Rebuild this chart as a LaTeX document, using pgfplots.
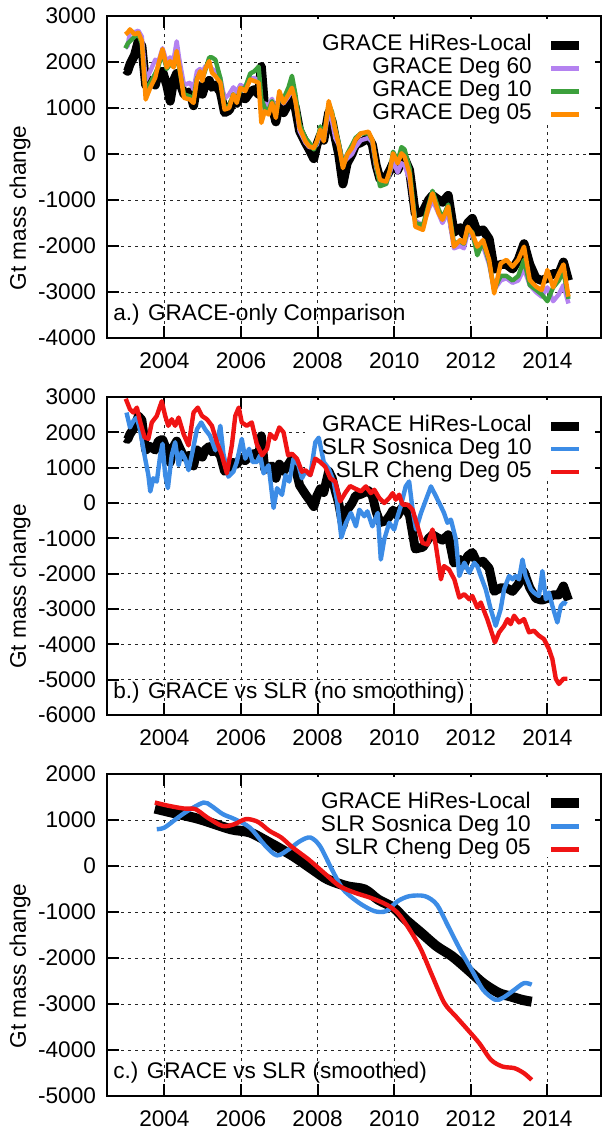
\documentclass[border=0pt]{standalone}
\usepackage{fontspec}
\setmainfont{Liberation Sans}
\usepackage{pgfplots}
\usepackage{pgfplotstable}
\pgfplotsset{compat=1.18}

\definecolor{cpurple}{RGB}{180,130,240}
\definecolor{cgreen}{RGB}{60,160,60}
\definecolor{corange}{RGB}{255,140,0}
\definecolor{cblue}{RGB}{60,140,230}
\definecolor{cred}{RGB}{240,20,20}
\newcommand\myfont{\fontsize{11.3}{13}\selectfont}

\pgfplotstableread{
x black purple green orange
2002.98 1840 2300 2300 2600
2003.04 1800 2350 2400 2640
2003.10 1950 2650 2450 2710
2003.22 2150 2650 2550 2600
2003.32 2460 2680 2600 2640
2003.41 2350 2550 2400 2460
2003.51 1500 1600 1350 1185
2003.63 1600 1800 1550 1440
2003.76 1500 2050 1750 1660
2003.84 1750 2000 1900 1950
2003.95 1800 2300 2200 2280
2004.06 1500 2000 1850 1880
2004.15 1150 2100 1950 2020
2004.24 1600 2050 1900 1880
2004.32 1750 2450 2150 2240
2004.38 1600 2100 1900 1950
2004.51 1300 1500 1300 1220
2004.67 1350 1550 1250 1185
2004.76 1050 1400 1200 1110
2004.85 1500 1800 1650 1620
2004.93 1400 1850 1750 1800
2004.99 1300 1750 1650 1585
2005.06 1500 1900 1800 1840
2005.17 1600 1950 2100 2020
2005.24 1450 1850 2100 1770
2005.33 1500 1800 2050 1695
2005.46 1350 1650 1650 1550
2005.57 900 1200 1000 967
2005.69 950 1300 1050 1000
2005.80 1150 1450 1300 1295
2005.89 1100 1350 1150 1110
2005.98 1250 1500 1400 1440
2006.11 1200 1450 1450 1370
2006.24 1350 1650 1750 1620
2006.35 1400 1650 1800 1585
2006.46 1300 1600 1900 1550
2006.53 1900 900 1200 676
2006.62 950 1100 1000 930
2006.72 1000 1050 950 858
2006.81 1050 1200 1150 1110
2006.91 700 900 850 785
2007.00 1100 1300 1250 1370
2007.11 900 1100 1200 1110
2007.24 1100 1250 1450 1295
2007.33 1250 1400 1700 1440
2007.42 1000 1200 1300 1150
2007.53 500 500 650 567
2007.68 250 250 350 276
2007.78 100 150 250 167
2007.90 -100 150 100 130
2007.98 200 200 250 276
2008.07 400 450 600 530
2008.16 300 300 350 276
2008.29 900 950 1100 1150
2008.38 700 700 900 858
2008.46 350 350 550 530
2008.55 0 200 250 204
2008.66 -650 -200 -250 -305
2008.77 -200 -100 0 -15
2008.90 0 0 200 130
2008.99 200 150 350 313
2009.13 250 300 450 450
2009.33 350 350 450 485
2009.43 200 250 300 304
2009.53 -250 -300 -250 -203
2009.63 -550 -600 -700 -565
2009.79 -500 -650 -650 -600
2009.89 -350 -400 -350 -348
2009.97 -200 -150 50 15
2010.09 -350 -400 -150 -203
2010.19 -150 -200 150 15
2010.27 -100 -250 100 -58
2010.40 -350 -550 -300 -420
2010.55 -1300 -1450 -1500 -1580
2010.75 -1250 -1550 -1550 -1650
2010.90 -1000 -1200 -1100 -1140
2011.00 -900 -1000 -800 -855
2011.16 -1000 -1300 -1200 -1290
2011.26 -1050 -1500 -1400 -1430
2011.41 -900 -1250 -1100 -1140
2011.56 -1700 -2050 -1950 -2015
2011.72 -1600 -2000 -1900 -1870
2011.82 -1750 -2050 -1950 -1940
2011.92 -1500 -1700 -1650 -1580
2012.04 -1400 -1800 -1700 -1725
2012.17 -1700 -2050 -2200 -2015
2012.32 -1650 -2000 -1900 -1870
2012.48 -1850 -2400 -2350 -2300
2012.61 -2500 -2950 -2950 -3030
2012.78 -2400 -2750 -2650 -2380
2012.93 -2400 -2700 -2650 -2300
2013.09 -2500 -2800 -2750 -2450
2013.24 -2300 -2750 -2650 -2300
2013.39 -1950 -2500 -2300 -2015
2013.54 -2400 -2850 -2850 -2740
2013.70 -2700 -3000 -2950 -2880
2013.85 -2750 -3100 -3050 -2960
2014.00 -2700 -2900 -3200 -2520
2014.15 -2600 -3200 -2900 -2900
2014.30 -2600 -3050 -2750 -2600
2014.42 -2350 -2850 -2550 -2400
2014.55 -2750 -3250 -3150 -3100
}\tabA

\pgfplotstableread{
x y
2002.99 2950
2003.10 2650
2003.19 2560
2003.28 2700
2003.36 2325
2003.48 1860
2003.58 1815
2003.67 2280
2003.80 2465
2003.93 2880
2004.02 2465
2004.10 2185
2004.19 2370
2004.28 2185
2004.37 2420
2004.50 1950
2004.63 1630
2004.76 2560
2004.87 2700
2004.98 2465
2005.11 2370
2005.24 2185
2005.37 1720
2005.50 1350
2005.63 840
2005.76 1630
2005.85 2465
2005.94 2700
2006.02 2280
2006.15 2185
2006.28 2280
2006.41 1675
2006.55 1350
2006.68 1535
2006.76 1950
2006.89 1815
2007.00 2140
2007.11 2000
2007.23 1350
2007.33 1395
2007.46 1255
2007.59 885
2007.68 930
2007.81 790
2007.94 1255
2008.07 1160
2008.20 1025
2008.33 700
2008.46 605
2008.59 47
2008.73 300
2008.85 480
2008.96 420
2009.13 330
2009.26 470
2009.39 280
2009.48 375
2009.61 140
2009.74 0
2009.87 140
2009.96 280
2010.04 95
2010.13 235
2010.22 -47
2010.35 -47
2010.48 -190
2010.61 -660
2010.74 -1130
2010.87 -1175
2011.00 -750
2011.09 -1220
2011.22 -2160
2011.30 -1785
2011.43 -1880
2011.57 -2160
2011.70 -2675
2011.83 -2580
2011.96 -2725
2012.04 -2630
2012.17 -2960
2012.26 -2815
2012.43 -3285
2012.63 -3945
2012.74 -3660
2012.87 -3475
2012.96 -3285
2013.04 -3430
2013.13 -3190
2013.26 -3380
2013.39 -3285
2013.52 -3660
2013.65 -3615
2013.78 -3755
2013.91 -3850
2014.04 -4130
2014.13 -4415
2014.22 -4975
2014.30 -5120
2014.42 -4975
2014.52 -4975
}\tabRed

\pgfplotstableread{
x y
2003.01 2560
2003.10 2140
2003.19 2325
2003.28 2420
2003.36 2090
2003.48 1350
2003.58 790
2003.63 325
2003.71 700
2003.80 605
2003.89 1350
2003.95 1675
2004.02 790
2004.09 420
2004.19 1350
2004.28 1720
2004.37 1070
2004.45 1440
2004.54 1255
2004.63 930
2004.73 1440
2004.85 2090
2004.96 2280
2005.06 2090
2005.19 1905
2005.33 1490
2005.46 2185
2005.54 1395
2005.67 745
2005.80 885
2005.89 1160
2006.02 1815
2006.11 1255
2006.21 1535
2006.30 1160
2006.41 1160
2006.50 1350
2006.59 840
2006.72 1070
2006.85 -140
2006.94 420
2007.07 230
2007.16 790
2007.26 605
2007.37 1255
2007.50 1070
2007.59 700
2007.68 885
2007.81 790
2007.94 1720
2008.03 1850
2008.16 1160
2008.29 975
2008.42 605
2008.51 47
2008.62 -975
2008.74 -560
2008.87 -280
2009.00 -660
2009.09 -190
2009.22 -375
2009.30 -235
2009.43 -660
2009.57 -280
2009.65 -1600
2009.74 -1030
2009.87 -560
2010.00 -750
2010.09 -375
2010.17 -95
2010.30 470
2010.39 610
2010.48 -190
2010.57 -750
2010.70 -280
2010.83 95
2010.96 470
2011.09 190
2011.22 -95
2011.30 -280
2011.39 -560
2011.48 -470
2011.61 -1030
2011.70 -2065
2011.83 -1690
2011.96 -1970
2012.09 -1690
2012.17 -1785
2012.26 -2065
2012.39 -2440
2012.52 -3005
2012.65 -3475
2012.78 -3005
2012.87 -2440
2013.00 -2065
2013.09 -2160
2013.17 -2065
2013.26 -2160
2013.35 -1600
2013.43 -2065
2013.57 -2440
2013.65 -2535
2013.78 -2630
2013.87 -1925
2013.96 -2725
2014.04 -2535
2014.13 -2910
2014.26 -3380
2014.35 -2910
2014.43 -2815
2014.50 -2865
}\tabBlue

\pgfplotstableread{
x y
2003.75 1250
2004.20 1160
2004.91 1020
2005.73 800
2006.23 730
2006.74 510
2007.35 220
2007.86 -70
2008.26 -290
2008.77 -440
2009.23 -510
2009.58 -730
2009.99 -910
2010.29 -1160
2010.70 -1450
2011.11 -1745
2011.51 -1960
2011.92 -2250
2012.32 -2545
2012.73 -2760
2013.04 -2835
2013.34 -2910
2013.59 -2950
}\tabCblack

\pgfplotstableread{
x y
2003.80 800
2004.00 835
2004.30 1020
2004.61 1200
2005.02 1380
2005.22 1310
2005.52 1130
2005.83 1020
2006.23 835
2006.64 435
2006.94 230
2007.25 365
2007.55 545
2007.81 620
2008.06 435
2008.37 -70
2008.67 -510
2009.08 -800
2009.48 -980
2009.79 -980
2010.09 -765
2010.40 -655
2010.80 -655
2011.11 -835
2011.41 -1310
2011.72 -1815
2012.02 -2250
2012.32 -2690
2012.63 -2905
2012.83 -2870
2013.14 -2690
2013.39 -2545
2013.59 -2580
}\tabCblue

\pgfplotstableread{
x y
2003.75 1380
2004.10 1310
2004.51 1250
2004.81 1235
2005.12 1055
2005.52 870
2005.83 910
2006.13 1020
2006.44 960
2006.74 765
2007.05 620
2007.35 400
2007.76 145
2008.16 -145
2008.57 -435
2008.97 -580
2009.38 -690
2009.79 -835
2010.09 -1020
2010.40 -1380
2010.70 -1815
2011.00 -2400
2011.31 -2980
2011.61 -3270
2011.92 -3560
2012.22 -3850
2012.53 -4215
2012.83 -4360
2013.14 -4395
2013.39 -4505
2013.59 -4650
}\tabCred

\pgfplotsset{
  panel/.style={
    scale only axis, width=247pt,
    xmin=2002.5, xmax=2015.4,
    xtick={2004,2006,...,2014},
    scaled ticks=false,
    tick align=inside,
    major tick length=6pt,
    tick style={black, line width=1pt},
    axis line style={line width=1.2pt},
    grid=major,
    major grid style={black!85, line width=0.5pt, dash pattern=on 1.5pt off 2pt},
    /pgf/number format/assume math mode=true,
    /pgf/number format/1000 sep={},
    tick label style={font=\myfont},
    xticklabel style={yshift=-4pt},
    yticklabel style={xshift=-2pt},
    ylabel={Gt mass change},
    every axis y label/.style={at={(axis description cs:-0.176,0.404)}, rotate=90, anchor=center, font=\myfont},
    legend plot pos=right,
    legend cell align=right,
    legend image code/.code={\draw[##1,line cap=butt] (0pt,0pt) -- (14pt,0pt);},
    legend style={at={(axis description cs:0.970,0.952)}, anchor=north east,
      fill=none, draw=none, font=\myfont, inner xsep=1pt, inner ysep=1pt,
      column sep=7pt, row sep=0pt,
      nodes={inner sep=0.5pt, text height=8pt, text depth=2.5pt}},
  },
  thickblack/.style={black, line width=4.5pt, line join=round},
  thinline/.style={line width=2.2pt, line join=round},
}

\begin{document}
\begin{tikzpicture}
\path[use as bounding box] (-53.5pt,8pt) rectangle (248pt,-558pt);

\begin{axis}[panel, at={(0pt,0pt)}, anchor=north west, height=161pt,
  ymin=-4000, ymax=3000, ytick={-4000,-3000,...,3000}]
\fill[white] (axis description cs:0.395,0.99) rectangle (axis description cs:0.988,0.671);
\addplot[thickblack] table[x=x,y=black]{\tabA};
\addlegendentry{GRACE HiRes-Local}
\addplot[thinline, cpurple] table[x=x,y=purple]{\tabA};
\addlegendentry{GRACE Deg 60}
\addplot[thinline, cgreen] table[x=x,y=green]{\tabA};
\addlegendentry{GRACE Deg 10}
\addplot[thinline, corange] table[x=x,y=orange]{\tabA};
\addlegendentry{GRACE Deg 05}
\node[anchor=west, font=\myfont, inner sep=0pt] at (axis description cs:0.012,0.071) {a.) GRACE-only Comparison};
\end{axis}

\begin{axis}[panel, at={(0pt,-190.5pt)}, anchor=north west, height=159pt,
  ymin=-6000, ymax=3000, ytick={-6000,-5000,...,3000}]
\fill[white] (axis description cs:0.40,0.99) rectangle (axis description cs:0.988,0.748);
\addplot[thickblack] table[x=x,y=black]{\tabA};
\addlegendentry{GRACE HiRes-Local}
\addplot[thinline, cblue] table[x=x,y=y]{\tabBlue};
\addlegendentry{SLR Sosnica Deg 10}
\addplot[thinline, cred] table[x=x,y=y]{\tabRed};
\addlegendentry{SLR Cheng Deg 05}
\node[anchor=west, font=\myfont, inner sep=0pt] at (axis description cs:0.012,0.071) {b.) GRACE vs SLR (no smoothing)};
\end{axis}

\begin{axis}[panel, at={(0pt,-379pt)}, anchor=north west, height=161pt,
  ymin=-5000, ymax=2000, ytick={-5000,-4000,...,2000}]
\fill[white] (axis description cs:0.40,0.99) rectangle (axis description cs:0.988,0.742);
\addplot[thickblack, line width=5pt, smooth] table[x=x,y=y]{\tabCblack};
\addlegendentry{GRACE HiRes-Local}
\addplot[thinline, cblue, smooth] table[x=x,y=y]{\tabCblue};
\addlegendentry{SLR Sosnica Deg 10}
\addplot[thinline, cred, smooth] table[x=x,y=y]{\tabCred};
\addlegendentry{SLR Cheng Deg 05}
\node[anchor=west, font=\myfont, inner sep=0pt] at (axis description cs:0.012,0.071) {c.) GRACE vs SLR (smoothed)};
\end{axis}
\end{tikzpicture}
\end{document}
